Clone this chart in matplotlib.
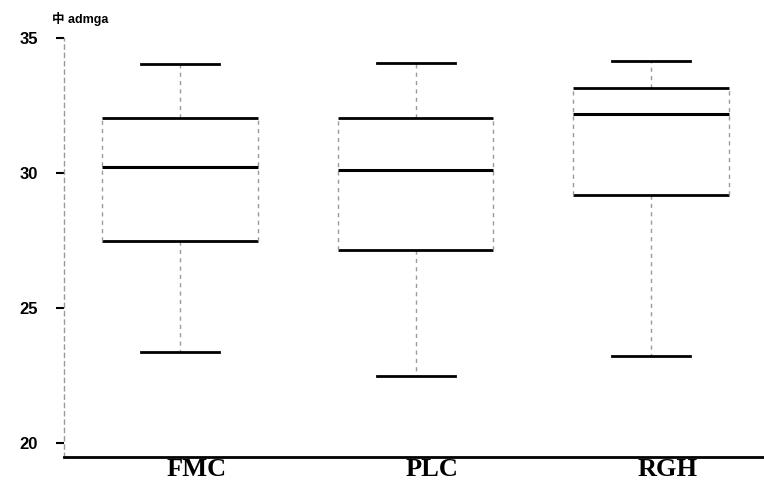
import numpy as np
import matplotlib.pyplot as plt
import matplotlib.transforms as mtransforms

# --- values ---
groups = ["FMC", "PLC", "RGH"]
whisker_low = [23.37, 22.48, 23.22]
q1 = [27.48, 27.15, 29.19]
median = [30.22, 30.11, 32.19]
q3 = [32.04, 32.04, 33.15]
whisker_high = [34.04, 34.07, 34.15]
yticks = [20, 25, 30, 35]

plt.rcParams['font.family'] = ['Liberation Sans', 'Noto Sans CJK SC', 'DejaVu Sans']

fig = plt.figure(figsize=(7.64, 4.84), dpi=100)
ax = fig.add_axes([0.0838, 0.0558, 0.9162, 0.8657])

positions = np.arange(1, len(groups) + 1)
box_w = 0.66
stats = []
for i, g in enumerate(groups):
	stats.append({
		"label": g,
		"whislo": whisker_low[i],
		"q1": q1[i],
		"med": median[i],
		"q3": q3[i],
		"whishi": whisker_high[i],
		"fliers": [],
	})

ax.bxp(stats, positions=positions, widths=box_w, showbox=False,
	showfliers=False, capwidths=0.33,
	whiskerprops=dict(color="#9a9a9a", linestyle=(0, (3, 3)), linewidth=1),
	capprops=dict(color="black", linewidth=2),
	medianprops=dict(color="black", linewidth=2.2))

# box edges: solid black top/bottom, faint dashed sides
ax.hlines(q1, positions - box_w / 2, positions + box_w / 2, color="black", linewidth=2)
ax.hlines(q3, positions - box_w / 2, positions + box_w / 2, color="black", linewidth=2)
ax.vlines(positions - box_w / 2, q1, q3, color="#9a9a9a", linestyle=(0, (3, 3)), linewidth=1)
ax.vlines(positions + box_w / 2, q1, q3, color="#9a9a9a", linestyle=(0, (3, 3)), linewidth=1)

ax.set_xlim(0.507, 3.479)
ax.set_ylim(19.48, 35.0)

ax.spines['top'].set_visible(False)
ax.spines['right'].set_visible(False)
ax.spines['left'].set_color("#9a9a9a")
ax.spines['left'].set_linestyle((0, (3, 3)))
ax.spines['left'].set_linewidth(1)
ax.spines['bottom'].set_linewidth(2)

ax.set_yticks(yticks)
ax.set_yticklabels([str(t) for t in yticks], fontsize=12, fontweight='bold')
ax.tick_params(axis='y', length=6, width=1.5, color='black', pad=13)
ax.set_xticks(positions)
ax.set_xticklabels(groups, fontsize=19, fontweight='bold', family=['Liberation Serif'])
ax.tick_params(axis='x', length=0, pad=1)

# the scanned labels sit a little right of the box centres
shift = mtransforms.ScaledTranslation(0.16, 0, fig.dpi_scale_trans)
for lab in ax.get_xticklabels():
	lab.set_transform(lab.get_transform() + shift)

fig.text(0.068, 0.975, "中 admga", fontsize=9, fontweight='bold', va='top', ha='left')

fig.savefig("out.png", dpi=100)
